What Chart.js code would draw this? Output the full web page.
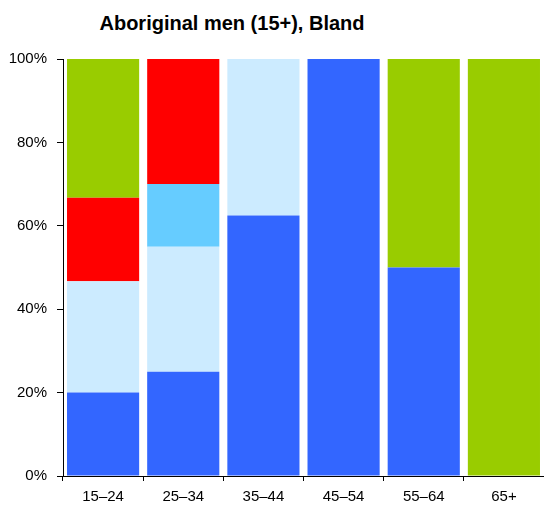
<!DOCTYPE html>
<html lang="en">
<head>
    <meta charset="UTF-8">
    <title>Aboriginal men (15+), Bland</title>
    <script src="https://cdn.jsdelivr.net/npm/chart.js"></script>
    <style>
        body { margin: 0; background: #fff; }
        .wrap { position: relative; width: 544px; height: 506px; }
        .title {
            position: absolute; left: 0; top: 13px; width: 464px;
            text-align: center; font: bold 20px "Liberation Sans", Arial, sans-serif;
            line-height: 20px; color: #000;
        }
        canvas { position: absolute; left: 0; top: 0; }
    </style>
</head>
<body>
    <div class="wrap">
        <div class="title">Aboriginal men (15+), Bland</div>
        <canvas id="chart" width="544" height="506"></canvas>
    </div>

    <script>
        // Age groups and percentage share of each segment (bottom to top)
        const ageGroups = ['15–24', '25–34', '35–44', '45–54', '55–64', '65+'];
        const blueSeries = [20, 25, 62.5, 100, 50, 0];
        const paleBlueSeries = [26.7, 30, 37.5, 0, 0, 0];
        const skyBlueSeries = [0, 15, 0, 0, 0, 0];
        const redSeries = [20, 30, 0, 0, 0, 0];
        const greenSeries = [33.3, 0, 0, 0, 50, 100];
        const yTicks = [0, 20, 40, 60, 80, 100];

        const font = { family: '"Liberation Sans", Arial, sans-serif', size: 15 };

        function seg(data, color) {
            return {
                data: data,
                backgroundColor: color,
                borderWidth: 0,
                barPercentage: 0.9,
                categoryPercentage: 1.0
            };
        }

        new Chart(document.getElementById('chart'), {
            type: 'bar',
            data: {
                labels: ageGroups,
                datasets: [
                    seg(blueSeries, '#3366FF'),
                    seg(paleBlueSeries, '#CCEBFF'),
                    seg(skyBlueSeries, '#66CCFF'),
                    seg(redSeries, '#FF0000'),
                    seg(greenSeries, '#99CC00')
                ]
            },
            options: {
                responsive: false,
                animation: false,
                layout: { padding: { top: 59, right: 0, left: 0, bottom: 0 } },
                plugins: {
                    legend: { display: false },
                    tooltip: { enabled: false }
                },
                scales: {
                    x: {
                        stacked: true,
                        grid: { drawOnChartArea: false, tickLength: 5, tickColor: '#000', offset: true },
                        border: { color: '#000', width: 1 },
                        ticks: { color: '#000', font: font, padding: 7, maxRotation: 0 },
                        afterFit: (scale) => { scale.height = 30; }
                    },
                    y: {
                        stacked: true,
                        min: 0,
                        max: 100,
                        afterBuildTicks: (scale) => { scale.ticks = yTicks.map(v => ({ value: v })); },
                        grid: { drawOnChartArea: false, tickLength: 6, tickColor: '#000' },
                        border: { color: '#000', width: 1 },
                        ticks: {
                            color: '#000', font: font, padding: 10,
                            callback: (v) => v + '%'
                        },
                        afterFit: (scale) => { scale.width = 63; }
                    }
                }
            }
        });
    </script>
</body>
</html>
